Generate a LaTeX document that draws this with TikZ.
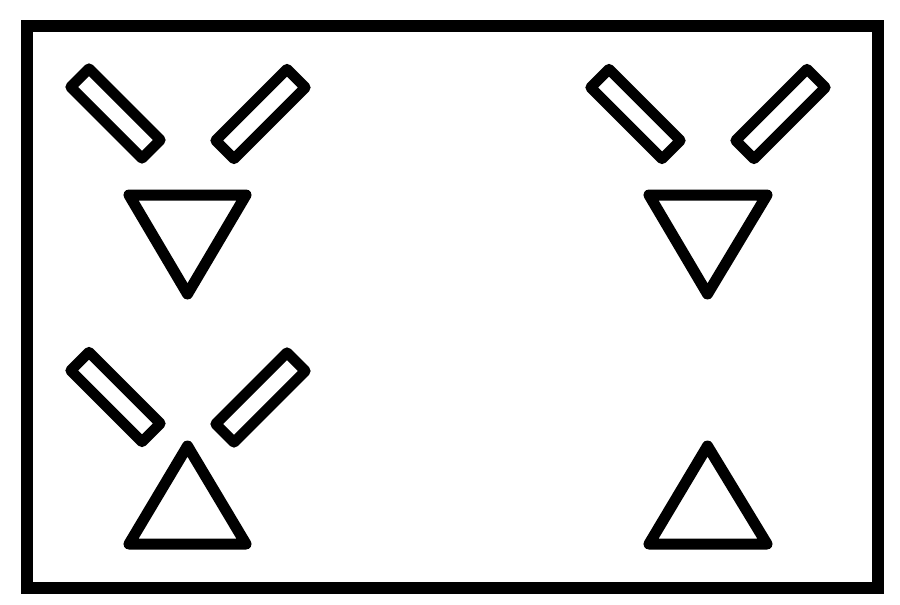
\documentclass[tikz,border=0pt]{standalone}
\begin{document}
\begin{tikzpicture}[x=1pt,y=-1pt,
  bar/.style={rectangle,draw=black,line width=10.5pt,line join=round,minimum width=101pt,minimum height=26pt,inner sep=0pt,outer sep=0pt},
  tri/.style={draw=black,line width=11pt,line join=round},
  frame/.style={draw=black,line width=12pt}]
\useasboundingbox (0,0) rectangle (900,605);
\draw[frame] (26.5,26) rectangle (877.5,587.5);
% top-left group
\node[bar,rotate=-45] (tlA) at (115.5,113.5) {};
\node[bar,rotate=45] (tlB) at (260.5,114) {};
\draw[tri] (129,195) -- (246,195) -- (187.5,294) -- cycle;
% top-right group
\node[bar,rotate=-45] (trA) at (635.5,114) {};
\node[bar,rotate=45] (trB) at (780.5,114) {};
\draw[tri] (649,195) -- (767,195) -- (707.5,294) -- cycle;
% bottom-left group
\node[bar,rotate=-45] (blA) at (115.5,397) {};
\node[bar,rotate=45] (blB) at (260.5,397.5) {};
\draw[tri] (129,544) -- (246,544) -- (187.5,446) -- cycle;
% bottom-right
\draw[tri] (649,544) -- (767,544) -- (707.5,446) -- cycle;
\end{tikzpicture}
\end{document}
